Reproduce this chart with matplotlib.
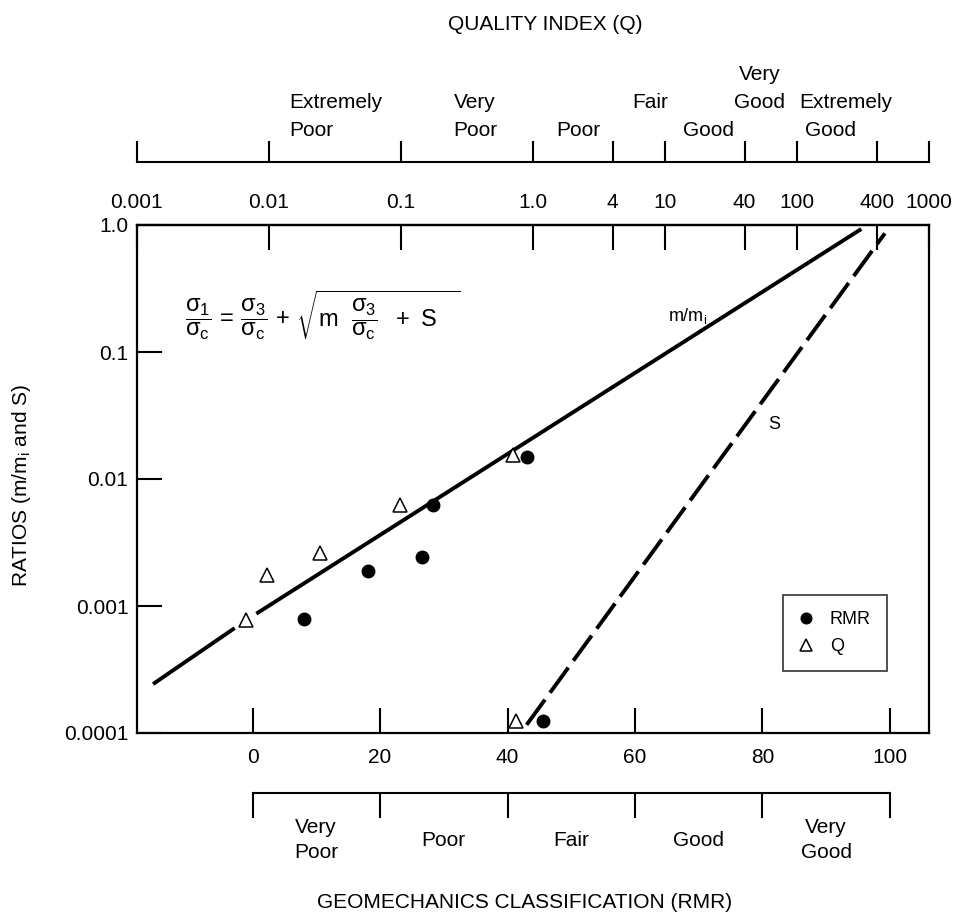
import numpy as np
import matplotlib
matplotlib.use("Agg")
import matplotlib.pyplot as plt

plt.rcParams["font.family"] = ["Liberation Sans", "DejaVu Sans"]
plt.rcParams["mathtext.fontset"] = "custom"
plt.rcParams["mathtext.rm"] = "Liberation Sans"
plt.rcParams["mathtext.it"] = "Liberation Sans"
plt.rcParams["mathtext.bf"] = "Liberation Sans:bold"

# ---------------- data ----------------
rmr_ticks = [0, 20, 40, 60, 80, 100]
ratio_ticks = [1e-4, 1e-3, 1e-2, 1e-1, 1.0]
ratio_tick_labels = ["0.0001", "0.001", "0.01", "0.1", "1.0"]

q_ticks = [0.001, 0.01, 0.1, 1.0, 4, 10, 40, 100, 400, 1000]
q_tick_labels = ["0.001", "0.01", "0.1", "1.0", "4", "10", "40", "100", "400", "1000"]

rmr_classes = ["Very\nPoor", "Poor", "Fair", "Good", "Very\nGood"]
rmr_class_centres = [10, 30, 50, 70, 90]

# measured points
rmr_pts_rmr = [8.1, 18.1, 26.6, 28.3, 43.0, 45.5]
rmr_pts_ratio = [7.9e-4, 1.9e-3, 2.45e-3, 6.2e-3, 1.48e-2, 1.24e-4]
q_pts_rmr = [-1.1, 2.2, 10.6, 23.1, 40.9, 41.3]
q_pts_ratio = [7.7e-4, 1.77e-3, 2.6e-3, 6.2e-3, 1.55e-2, 1.24e-4]

# m/mi trend (two pieces, broken near the first triangle)
m_lower_rmr = [-15.6, -2.8]
m_lower_ratio = [2.43e-4, 6.7e-4]
m_upper_rmr = [0.6, 95.5]
m_upper_ratio = [8.7e-4, 0.93]

# s trend
s_rmr = [43.0, 99.2]
s_ratio = [1.16e-4, 0.86]


def q_to_rmr(q):
    return 9.0 * np.log(np.asarray(q, dtype=float)) + 44.0


W, H = 965, 919
fig = plt.figure(figsize=(W / 100, H / 100), dpi=100)


def fx(px):
    return px / W


def fy(py):
    return 1.0 - py / H


x_lo, x_hi = q_to_rmr(0.001), q_to_rmr(1000)
ax_left, ax_right = 136.7, 929.3
ax_top, ax_bot = 225, 733

ax = fig.add_axes([fx(ax_left), fy(ax_bot), fx(ax_right) - fx(ax_left), (ax_bot - ax_top) / H])
ax.set_xlim(x_lo, x_hi)
ax.set_yscale("log")
ax.set_ylim(1e-4, 1.0)
for sp in ax.spines.values():
    sp.set_linewidth(1.6)

ax.set_xticks(rmr_ticks)
ax.set_xticklabels([str(t) for t in rmr_ticks])
ax.set_yticks(ratio_ticks)
ax.set_yticklabels(ratio_tick_labels)
ax.yaxis.set_minor_locator(matplotlib.ticker.NullLocator())
ax.tick_params(axis="both", which="major", direction="in", length=18, width=1.5,
               labelsize=15)
ax.tick_params(axis="x", pad=11)
ax.tick_params(axis="y", pad=6)

top = ax.secondary_xaxis("top")
top.set_xticks(q_to_rmr(q_ticks))
top.set_xticklabels(q_tick_labels)
top.tick_params(direction="in", length=18, width=1.5, labelsize=15, pad=9)
top.spines["top"].set_linewidth(1.6)

# trend lines
ax.plot(m_lower_rmr, m_lower_ratio, color="black", lw=2.8, solid_capstyle="butt")
ax.plot(m_upper_rmr, m_upper_ratio, color="black", lw=2.8, solid_capstyle="butt")
ax.plot(s_rmr, s_ratio, color="black", lw=2.8, dashes=(8, 2.2), dash_capstyle="butt")

# data points
h_rmr, = ax.plot(rmr_pts_rmr, rmr_pts_ratio, ls="none", marker="o", ms=9,
                 mfc="black", mec="black", label="RMR", zorder=5)
h_q, = ax.plot(q_pts_rmr, q_pts_ratio, ls="none", marker="^", ms=9.5,
               mfc="white", mec="black", mew=1.1, label="Q", zorder=5)

ax.text(65.2, 0.193, "m/m$_\\mathregular{i}$", fontsize=13, ha="left", va="center")
ax.text(80.9, 0.027, "S", fontsize=13, ha="left", va="center")

ax.text(0.235, 0.823,
        r"$\dfrac{\sigma_1}{\sigma_c}\, = \,\dfrac{\sigma_3}{\sigma_c}\, +\, "
        r"\sqrt{m\ \ \dfrac{\sigma_3}{\sigma_c}\ \ +\ S\ \ \ }$",
        transform=ax.transAxes, fontsize=17, ha="center", va="center")

leg = ax.legend(handles=[h_rmr, h_q], loc="upper left",
                bbox_to_anchor=(fx(783), fy(595)), bbox_transform=fig.transFigure,
                frameon=True, fancybox=False, edgecolor="black", fontsize=13,
                borderpad=0.9, labelspacing=0.55, handlelength=0.8,
                handletextpad=0.9, borderaxespad=0.0, markerscale=0.85)
leg.get_frame().set_linewidth(1.2)

# ---------------- Q classification bracket ----------------
axq = fig.add_axes([fx(ax_left), fy(162), fx(ax_right) - fx(ax_left), 110 / H])
axq.set_xlim(x_lo, x_hi)
axq.set_ylim(0, 110)
axq.patch.set_visible(False)
for name in ("top", "left", "right"):
    axq.spines[name].set_visible(False)
axq.spines["bottom"].set_linewidth(1.5)
axq.set_xticks(q_to_rmr(q_ticks))
axq.set_yticks([])
axq.tick_params(axis="x", direction="in", length=15, width=1.5, labelbottom=False)

cls_fs = 15
axq.text(5.7, 59, "Extremely", fontsize=cls_fs, ha="left", va="center")
axq.text(5.7, 31, "Poor", fontsize=cls_fs, ha="left", va="center")
axq.text(34.9, 59, "Very", fontsize=cls_fs, ha="center", va="center")
axq.text(34.9, 31, "Poor", fontsize=cls_fs, ha="center", va="center")
axq.text(51.1, 31, "Poor", fontsize=cls_fs, ha="center", va="center")
axq.text(62.4, 59, "Fair", fontsize=cls_fs, ha="center", va="center")
axq.text(71.5, 31, "Good", fontsize=cls_fs, ha="center", va="center")
axq.text(79.6, 87, "Very", fontsize=cls_fs, ha="center", va="center")
axq.text(79.6, 59, "Good", fontsize=cls_fs, ha="center", va="center")
axq.text(93.1, 59, "Extremely", fontsize=cls_fs, ha="center", va="center")
axq.text(90.6, 31, "Good", fontsize=cls_fs, ha="center", va="center")

# ---------------- RMR classification bracket ----------------
axr = fig.add_axes([fx(ax_left), fy(903), fx(ax_right) - fx(ax_left), 110 / H])
axr.set_xlim(x_lo, x_hi)
axr.set_ylim(-110, 0)
axr.patch.set_visible(False)
for name in ("bottom", "left", "right"):
    axr.spines[name].set_visible(False)
axr.spines["top"].set_linewidth(1.5)
axr.spines["top"].set_bounds(rmr_ticks[0], rmr_ticks[-1])
axr.set_xticks(rmr_ticks)
axr.set_yticks([])
axr.tick_params(axis="x", top=True, bottom=False, direction="in", length=18,
                width=1.5, labelbottom=False, labeltop=False)
for name, c in zip(rmr_classes, rmr_class_centres):
    axr.text(c, -47, name, fontsize=cls_fs, ha="center", va="center", linespacing=1.35)

# ---------------- titles ----------------
fig.text(fx(545), fy(24), "QUALITY INDEX (Q)", fontsize=15, ha="center", va="center")
fig.text(fx(525), fy(902), "GEOMECHANICS CLASSIFICATION (RMR)", fontsize=15,
         ha="center", va="center")
fig.text(fx(22), fy(485), "RATIOS (m/m$_\\mathregular{i}$ and S)", fontsize=15,
         rotation=90, ha="center", va="center")

fig.savefig("out.png", dpi=100)
